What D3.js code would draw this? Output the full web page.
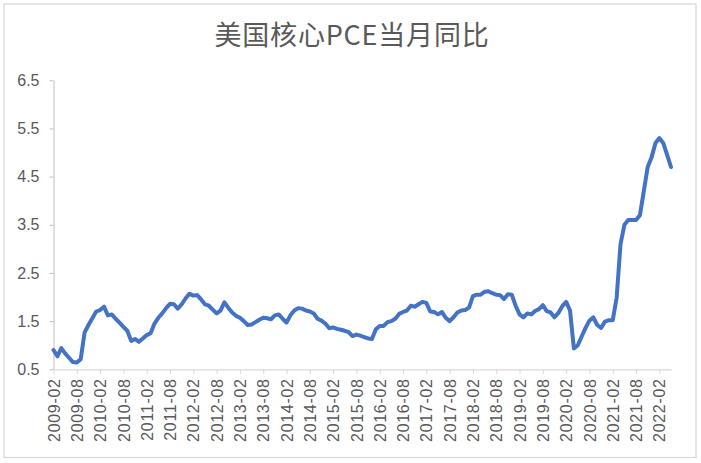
<!DOCTYPE html>
<html lang="zh">
<head>
    <meta charset="utf-8">
    <title>美国核心PCE当月同比</title>
    <script src="https://d3js.org/d3.v7.min.js"></script>
    <style>
        body { margin: 0; background: #fff; }
    </style>
</head>
<body>

<script>
    // monthly categories, 2009-02 .. 2022-05
    const months = d3.utcMonth
            .range(new Date(Date.UTC(2009, 1, 1)), new Date(Date.UTC(2022, 5, 1)))
            .map(d3.utcFormat("%Y-%m"));

    // core PCE, % yoy
    const coreYoY = [
        0.90, 0.77, 0.94, 0.83, 0.74, 0.65, 0.64, 0.71, 1.26, 1.42, 1.56,
        1.70, 1.73, 1.80, 1.62, 1.64, 1.55, 1.47, 1.38, 1.30, 1.09, 1.13, 1.07,
        1.14, 1.21, 1.25, 1.45, 1.57, 1.66, 1.77, 1.86, 1.85, 1.76, 1.85, 1.97,
        2.07, 2.03, 2.04, 1.95, 1.85, 1.82, 1.74, 1.66, 1.72, 1.89, 1.78, 1.68,
        1.61, 1.57, 1.50, 1.42, 1.43, 1.48, 1.53, 1.57, 1.56, 1.54, 1.62, 1.64,
        1.55, 1.47, 1.62, 1.72, 1.77, 1.76, 1.72, 1.70, 1.66, 1.55, 1.51, 1.45,
        1.35, 1.37, 1.34, 1.32, 1.30, 1.27, 1.19, 1.22, 1.20, 1.17, 1.14, 1.13,
        1.33, 1.40, 1.40, 1.48, 1.50, 1.55, 1.65, 1.69, 1.72, 1.82, 1.80, 1.85,
        1.90, 1.88, 1.70, 1.69, 1.64, 1.69, 1.57, 1.50, 1.58, 1.68, 1.72, 1.73,
        1.78, 2.02, 2.05, 2.05, 2.11, 2.12, 2.08, 2.05, 2.04, 1.96, 2.06, 2.05,
        1.82, 1.64, 1.58, 1.66, 1.64, 1.71, 1.75, 1.83, 1.71, 1.68, 1.58, 1.67,
        1.81, 1.90, 1.72, 0.93, 1.00, 1.18, 1.36, 1.51, 1.58, 1.42, 1.36, 1.49,
        1.52, 1.52, 1.98, 3.10, 3.50, 3.60, 3.60, 3.60, 3.70, 4.20, 4.70, 4.90,
        5.20, 5.30, 5.20, 4.95, 4.70
    ];

    const yTicks = [0.5, 1.5, 2.5, 3.5, 4.5, 5.5, 6.5];
    const xTicks = [
        "2009-02", "2009-08", "2010-02", "2010-08", "2011-02", "2011-08",
        "2012-02", "2012-08", "2013-02", "2013-08", "2014-02", "2014-08",
        "2015-02", "2015-08", "2016-02", "2016-08", "2017-02", "2017-08",
        "2018-02", "2018-08", "2019-02", "2019-08", "2020-02", "2020-08",
        "2021-02", "2021-08", "2022-02"
    ];
    const title = "美国核心PCE当月同比";

    const W = 701, H = 463;
    const svg = d3.select("body").append("svg")
            .attr("width", W).attr("height", H)
            .style("font-family", "'Liberation Sans', Arial, sans-serif");

    svg.append("rect")
            .attr("x", 4).attr("y", 4)
            .attr("width", 692).attr("height", 453.5)
            .attr("fill", "#fff")
            .attr("stroke", "#d9d9d9")
            .attr("stroke-width", 1.3);

    svg.append("text")
            .attr("x", 352).attr("y", 45)
            .attr("text-anchor", "middle")
            .style("font-family", "'Noto Sans CJK SC', sans-serif")
            .style("font-size", "27px")
            .style("letter-spacing", "0.8px")
            .attr("fill", "#595959")
            .text(title);

    const x = d3.scalePoint()
            .domain(months)
            .range([53.5, 671]);
    const y = d3.scaleLinear()
            .domain([0.5, 6.5])
            .range([369.3, 80.3]);

    const yAxis = svg.append("g")
            .attr("transform", "translate(53.5,0)")
            .call(d3.axisLeft(y).tickValues(yTicks).tickFormat(d3.format(".1f")).tickSize(4).tickSizeOuter(0));
    yAxis.selectAll("path, line").attr("stroke", "#bfbfbf");
    yAxis.selectAll("text")
            .attr("x", -14)
            .attr("fill", "#595959")
            .style("font-size", "16px");

    const xAxis = svg.append("g")
            .attr("transform", "translate(0,369.3)")
            .call(d3.axisBottom(x).tickValues(xTicks).tickSize(5).tickSizeOuter(0));
    xAxis.select(".domain").attr("stroke", "#d9d9d9").attr("stroke-width", 1.3);
    xAxis.selectAll("line").attr("stroke", "#d9d9d9");
    xAxis.selectAll("text")
            .attr("transform", "rotate(-90)")
            .attr("text-anchor", "end")
            .attr("x", -9).attr("y", 0).attr("dy", "0.35em")
            .attr("fill", "#595959")
            .style("font-size", "16px")
            .style("letter-spacing", "0.7px");

    const line = d3.line()
            .x((d, i) => x(months[i]))
            .y(d => y(d));

    svg.append("path")
            .datum(coreYoY)
            .attr("d", line)
            .attr("fill", "none")
            .attr("stroke", "#4472c4")
            .attr("stroke-width", 4)
            .attr("stroke-linejoin", "round")
            .attr("stroke-linecap", "round");
</script>

</body>
</html>
